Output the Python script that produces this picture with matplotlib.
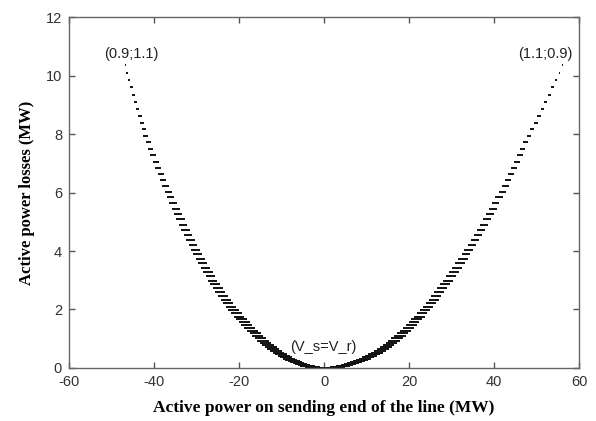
import numpy as np
import matplotlib
matplotlib.use("Agg")
import matplotlib.pyplot as plt

# losses of each dash (MW), from the top of the branches down to the minimum
losses = [10.36, 10.10, 9.85, 9.60, 9.35, 9.11, 8.86, 8.63, 8.39, 8.16,
          7.93, 7.71, 7.49, 7.27, 7.05, 6.84, 6.63, 6.43, 6.22, 6.02,
          5.83, 5.64, 5.45, 5.26, 5.08, 4.90, 4.72, 4.55, 4.38, 4.21,
          4.05, 3.89, 3.73, 3.58, 3.43, 3.28, 3.13, 2.99, 2.86, 2.72,
          2.59, 2.46, 2.34, 2.22, 2.10, 1.98, 1.87, 1.76, 1.66, 1.56,
          1.46, 1.36, 1.27, 1.18, 1.09, 1.01, 0.93, 0.86, 0.78, 0.71,
          0.65, 0.58, 0.52, 0.47, 0.41, 0.36, 0.32, 0.27, 0.23, 0.20,
          0.16, 0.13, 0.10, 0.08, 0.06, 0.04, 0.03, 0.01, 0.01, 0.00]

# sending-end power at dash centre (MW), V_s < V_r side
p_left = [-46.8, -46.3, -45.8, -45.3, -44.9, -44.4, -43.9, -43.4, -42.9, -42.4,
          -42.0, -41.4, -40.8, -40.2, -39.6, -39.0, -38.4, -37.9, -37.3, -36.7,
          -36.1, -35.5, -34.9, -34.3, -33.8, -33.2, -32.6, -32.0, -31.4, -30.8,
          -30.3, -29.7, -29.1, -28.5, -27.9, -27.3, -26.7, -26.2, -25.6, -25.0,
          -24.4, -23.8, -23.1, -22.5, -21.9, -21.3, -20.6, -20.0, -19.4, -18.7,
          -18.2, -17.5, -16.9, -16.2, -15.6, -15.0, -14.4, -13.8, -13.1, -12.5,
          -11.9, -11.3, -10.7, -10.1, -9.5, -8.9, -8.3, -7.7, -7.1, -6.5,
          -6.0, -5.4, -4.8, -4.2, -3.6, -3.0, -2.4, -1.8, -1.2, -0.6]

# V_s > V_r side
p_right = [56.2, 55.4, 54.6, 53.8, 53.0, 52.2, 51.4, 50.6, 49.8, 49.0,
           48.2, 47.5, 46.8, 46.1, 45.4, 44.7, 44.0, 43.3, 42.6, 41.9,
           41.2, 40.4, 39.7, 39.0, 38.3, 37.6, 36.9, 36.2, 35.5, 34.8,
           34.1, 33.4, 32.7, 32.0, 31.3, 30.6, 29.9, 29.2, 28.5, 27.8,
           27.1, 26.4, 25.8, 25.1, 24.5, 23.8, 23.1, 22.5, 21.8, 21.2,
           20.5, 19.8, 19.2, 18.5, 17.9, 17.2, 16.5, 15.9, 15.2, 14.6,
           13.9, 13.2, 12.5, 11.8, 11.1, 10.4, 9.7, 9.0, 8.3, 7.6,
           6.9, 6.2, 5.5, 4.8, 4.2, 3.5, 2.8, 2.1, 1.4, 0.7]

# horizontal spread of the points in each dash (MW)
spread = [0.25, 0.35, 0.45, 0.6, 0.7, 0.7, 0.8, 0.95, 0.95, 1.05,
          1.05, 1.2, 1.2, 1.3, 1.4, 1.4, 1.5, 1.5, 1.65, 1.65,
          1.75, 1.75, 1.9, 1.9, 1.95, 1.95, 2.0, 2.0, 2.05, 2.05,
          2.1, 2.1, 2.15, 2.15, 2.2, 2.2, 2.25, 2.25, 2.3, 2.3,
          2.35, 2.35, 2.35, 2.4, 2.4, 2.4, 2.45, 2.45, 2.5, 2.5,
          2.55, 2.55, 2.6, 2.6, 2.65, 2.65, 2.7, 2.7, 2.75, 2.75,
          2.8, 2.8, 2.8, 2.8, 2.8, 2.8, 2.8, 2.8, 2.8, 2.8,
          2.8, 2.8, 2.8, 2.8, 2.8, 2.8, 2.8, 2.8, 2.8, 2.8]

x_ticks = [-60, -40, -20, 0, 20, 40, 60]
y_ticks = [0, 2, 4, 6, 8, 10, 12]

losses = np.array(losses)
spread = np.array(spread)
p_left = np.array(p_left)
p_right = np.array(p_right)

fig = plt.figure(figsize=(5.96, 4.21), dpi=100)
ax = fig.add_axes([0.1158, 0.1259, 0.8557, 0.8337])

for p in (p_left, p_right):
    ax.hlines(losses, p - spread / 2, p + spread / 2, colors='#111111', lw=1.4)

ax.set_xlim(-60, 60)
ax.set_ylim(0, 12)
ax.set_xticks(x_ticks)
ax.set_yticks(y_ticks)

tick_font = {'family': 'Liberation Sans', 'size': 10.5}
ax.set_xticklabels([str(t) for t in x_ticks], fontdict=tick_font, color='#333333')
ax.set_yticklabels([str(t) for t in y_ticks], fontdict=tick_font, color='#333333')
ax.tick_params(direction='in', length=4, width=1, color='#555555',
               top=True, right=True, pad=5)
for s in ax.spines.values():
    s.set_color('#666666')
    s.set_linewidth(1)

ax.set_xlabel('Active power on sending end of the line (MW)',
              family='Liberation Serif', weight='bold', size=12.5, labelpad=8)
ax.set_ylabel('Active power losses (MW)',
              family='Liberation Serif', weight='bold', size=12, labelpad=8)

ann = {'family': 'Liberation Sans', 'size': 10.5, 'color': '#222222',
       'ha': 'center', 'va': 'center'}
ax.text(-45.4, 10.73, '(0.9;1.1)', **ann)
ax.text(52.0, 10.73, '(1.1;0.9)', **ann)
ax.text(-0.2, 0.73, '(V_s=V_r)', **ann)

fig.savefig('out.png', dpi=100)
